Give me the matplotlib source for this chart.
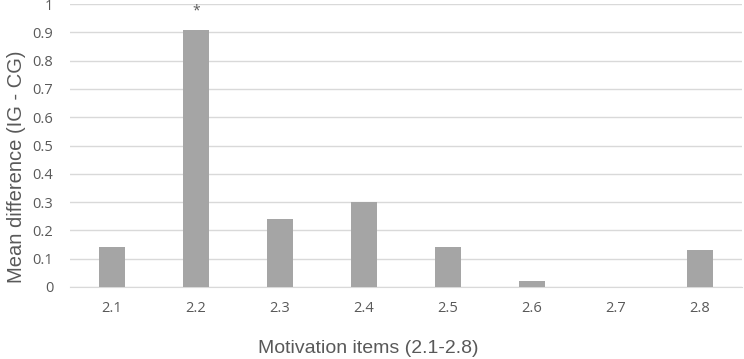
import matplotlib
matplotlib.use("Agg")
import matplotlib.pyplot as plt

items = ["2.1", "2.2", "2.3", "2.4", "2.5", "2.6", "2.7", "2.8"]
mean_diff = [0.14, 0.91, 0.24, 0.30, 0.14, 0.02, 0.0, 0.13]
significant = ["2.2"]

plt.rcParams["font.family"] = ["Open Sans", "DejaVu Sans"]
text_color = "#595959"

fig = plt.figure(figsize=(7.44, 3.59), dpi=100)
ax = fig.add_axes([0.094, 0.2006, 0.903, 0.788])

x = list(range(len(items)))
ax.bar(x, mean_diff, width=0.31, color="#A5A5A5", zorder=3)

for i, label in enumerate(items):
    if label in significant:
        ax.text(i, mean_diff[i] + 0.065, "*", ha="center", va="center",
                fontsize=10, color=text_color, clip_on=False)

ax.set_xlim(-0.5, len(items) - 0.5)
ax.set_ylim(0, 1)
ax.set_yticks([i / 10 for i in range(11)])
ax.set_yticklabels(["0", "0.1", "0.2", "0.3", "0.4", "0.5", "0.6", "0.7", "0.8", "0.9", "1"])
ax.set_xticks(x)
ax.set_xticklabels(items)
ax.tick_params(axis="both", length=0, labelsize=10.5, colors=text_color)
ax.tick_params(axis="x", pad=10)
ax.tick_params(axis="y", pad=12)

ax.grid(axis="y", color="#D9D9D9", linewidth=1, zorder=0)
for side in ["top", "right", "left"]:
    ax.spines[side].set_visible(False)
ax.spines["bottom"].set_color("#D9D9D9")

# axis titles sit off-centre like the Excel original, so place them on the figure
fig.text(368.5 / 744, 1 - 353 / 359, "Motivation items (2.1-2.8)", fontsize=14,
         color=text_color, family="Liberation Sans", ha="center", va="baseline")
fig.text(22 / 744, 1 - 166.5 / 359, "Mean difference (IG - CG)", fontsize=14.5,
         color=text_color, family="Liberation Sans", rotation=90,
         rotation_mode="anchor", ha="center", va="baseline")

fig.savefig("out.png", dpi=100)
